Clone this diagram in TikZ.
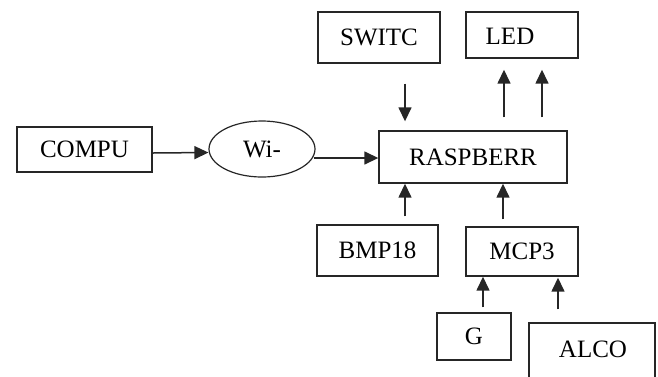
\documentclass[tikz,border=0pt]{standalone}
\usepackage{fontspec}
\setmainfont{Liberation Serif}
\usetikzlibrary{arrows.meta,shapes.geometric}
\tikzset{
  fnt/.style={font=\fontsize{25}{29}\selectfont},
  blk/.style={draw=black!85, line width=1.4pt, rectangle, inner sep=0pt, text height=16.5pt, text depth=0pt, fnt},
  txt/.style={inner sep=0pt, text height=16.5pt, text depth=0pt, fnt},
  oval/.style={draw=black!85, line width=1.2pt, ellipse, inner sep=0pt, text height=16.5pt, text depth=0pt, fnt},
  arr/.style={draw=black!85, line width=1.5pt, -{Triangle[length=14pt,width=13pt]}}
}
\begin{document}
\begin{tikzpicture}[x=1pt,y=-1pt]
\useasboundingbox (0,0) rectangle (658,376);
\clip (0,0) rectangle (658,376);
\node[blk, minimum width=135pt, minimum height=45pt] (compu) at (84.5,149.5) {COMPU};
\node[oval, minimum width=106pt, minimum height=56pt] (wifi) at (262,149) {Wi-};
\node[blk, minimum width=188pt, minimum height=52pt] (ras) at (473,157) {RASPBERR};
\node[blk, minimum width=122pt, minimum height=51pt] (switc) at (379,37.5) {SWITC};
\node[blk, minimum width=112pt, minimum height=46pt] (led) at (522,35) {};
\node[txt] (ledtext) at (510,36.5) {LED};
\node[blk, minimum width=121pt, minimum height=51pt] (bmp) at (377.5,250.5) {BMP18};
\node[blk, minimum width=112pt, minimum height=49pt] (mcp) at (522,251.5) {MCP3};
\node[blk, minimum width=74pt, minimum height=47pt] (g) at (474,336.5) {G};
\node[blk, minimum width=126pt, minimum height=72pt] (alco) at (592,359) {};
\node[txt] (alcotext) at (593,349.5) {ALCO};

\draw[arr] ([yshift=-3.5pt]compu.east) -- ([yshift=-3.5pt]wifi.west);
\draw[arr] ([yshift=-9pt,xshift=-2pt]wifi.east) -- ([yshift=-1pt]ras.west);
\draw[arr, shorten <=20pt, shorten >=9pt] ([xshift=26pt]switc.south) -- ([xshift=-68pt]ras.north);
\draw[arr, shorten <=13pt, shorten >=11pt] ([xshift=31pt]ras.north) -- ([xshift=-18pt]led.south);
\draw[arr, shorten <=13pt, shorten >=11pt] ([xshift=69pt]ras.north) -- ([xshift=20pt]led.south);
\draw[arr, shorten <=8pt] ([xshift=27.5pt]bmp.north) -- ([xshift=-68pt]ras.south);
\draw[arr, shorten <=7pt] ([xshift=-19pt]mcp.north) -- ([xshift=30pt]ras.south);
\draw[arr, shorten <=5pt] ([xshift=9pt]g.north) -- ([xshift=-39pt]mcp.south);
\draw[arr, shorten <=13pt, shorten >=1pt] ([xshift=-34pt]alco.north) -- ([xshift=36pt]mcp.south);
\end{tikzpicture}
\end{document}
